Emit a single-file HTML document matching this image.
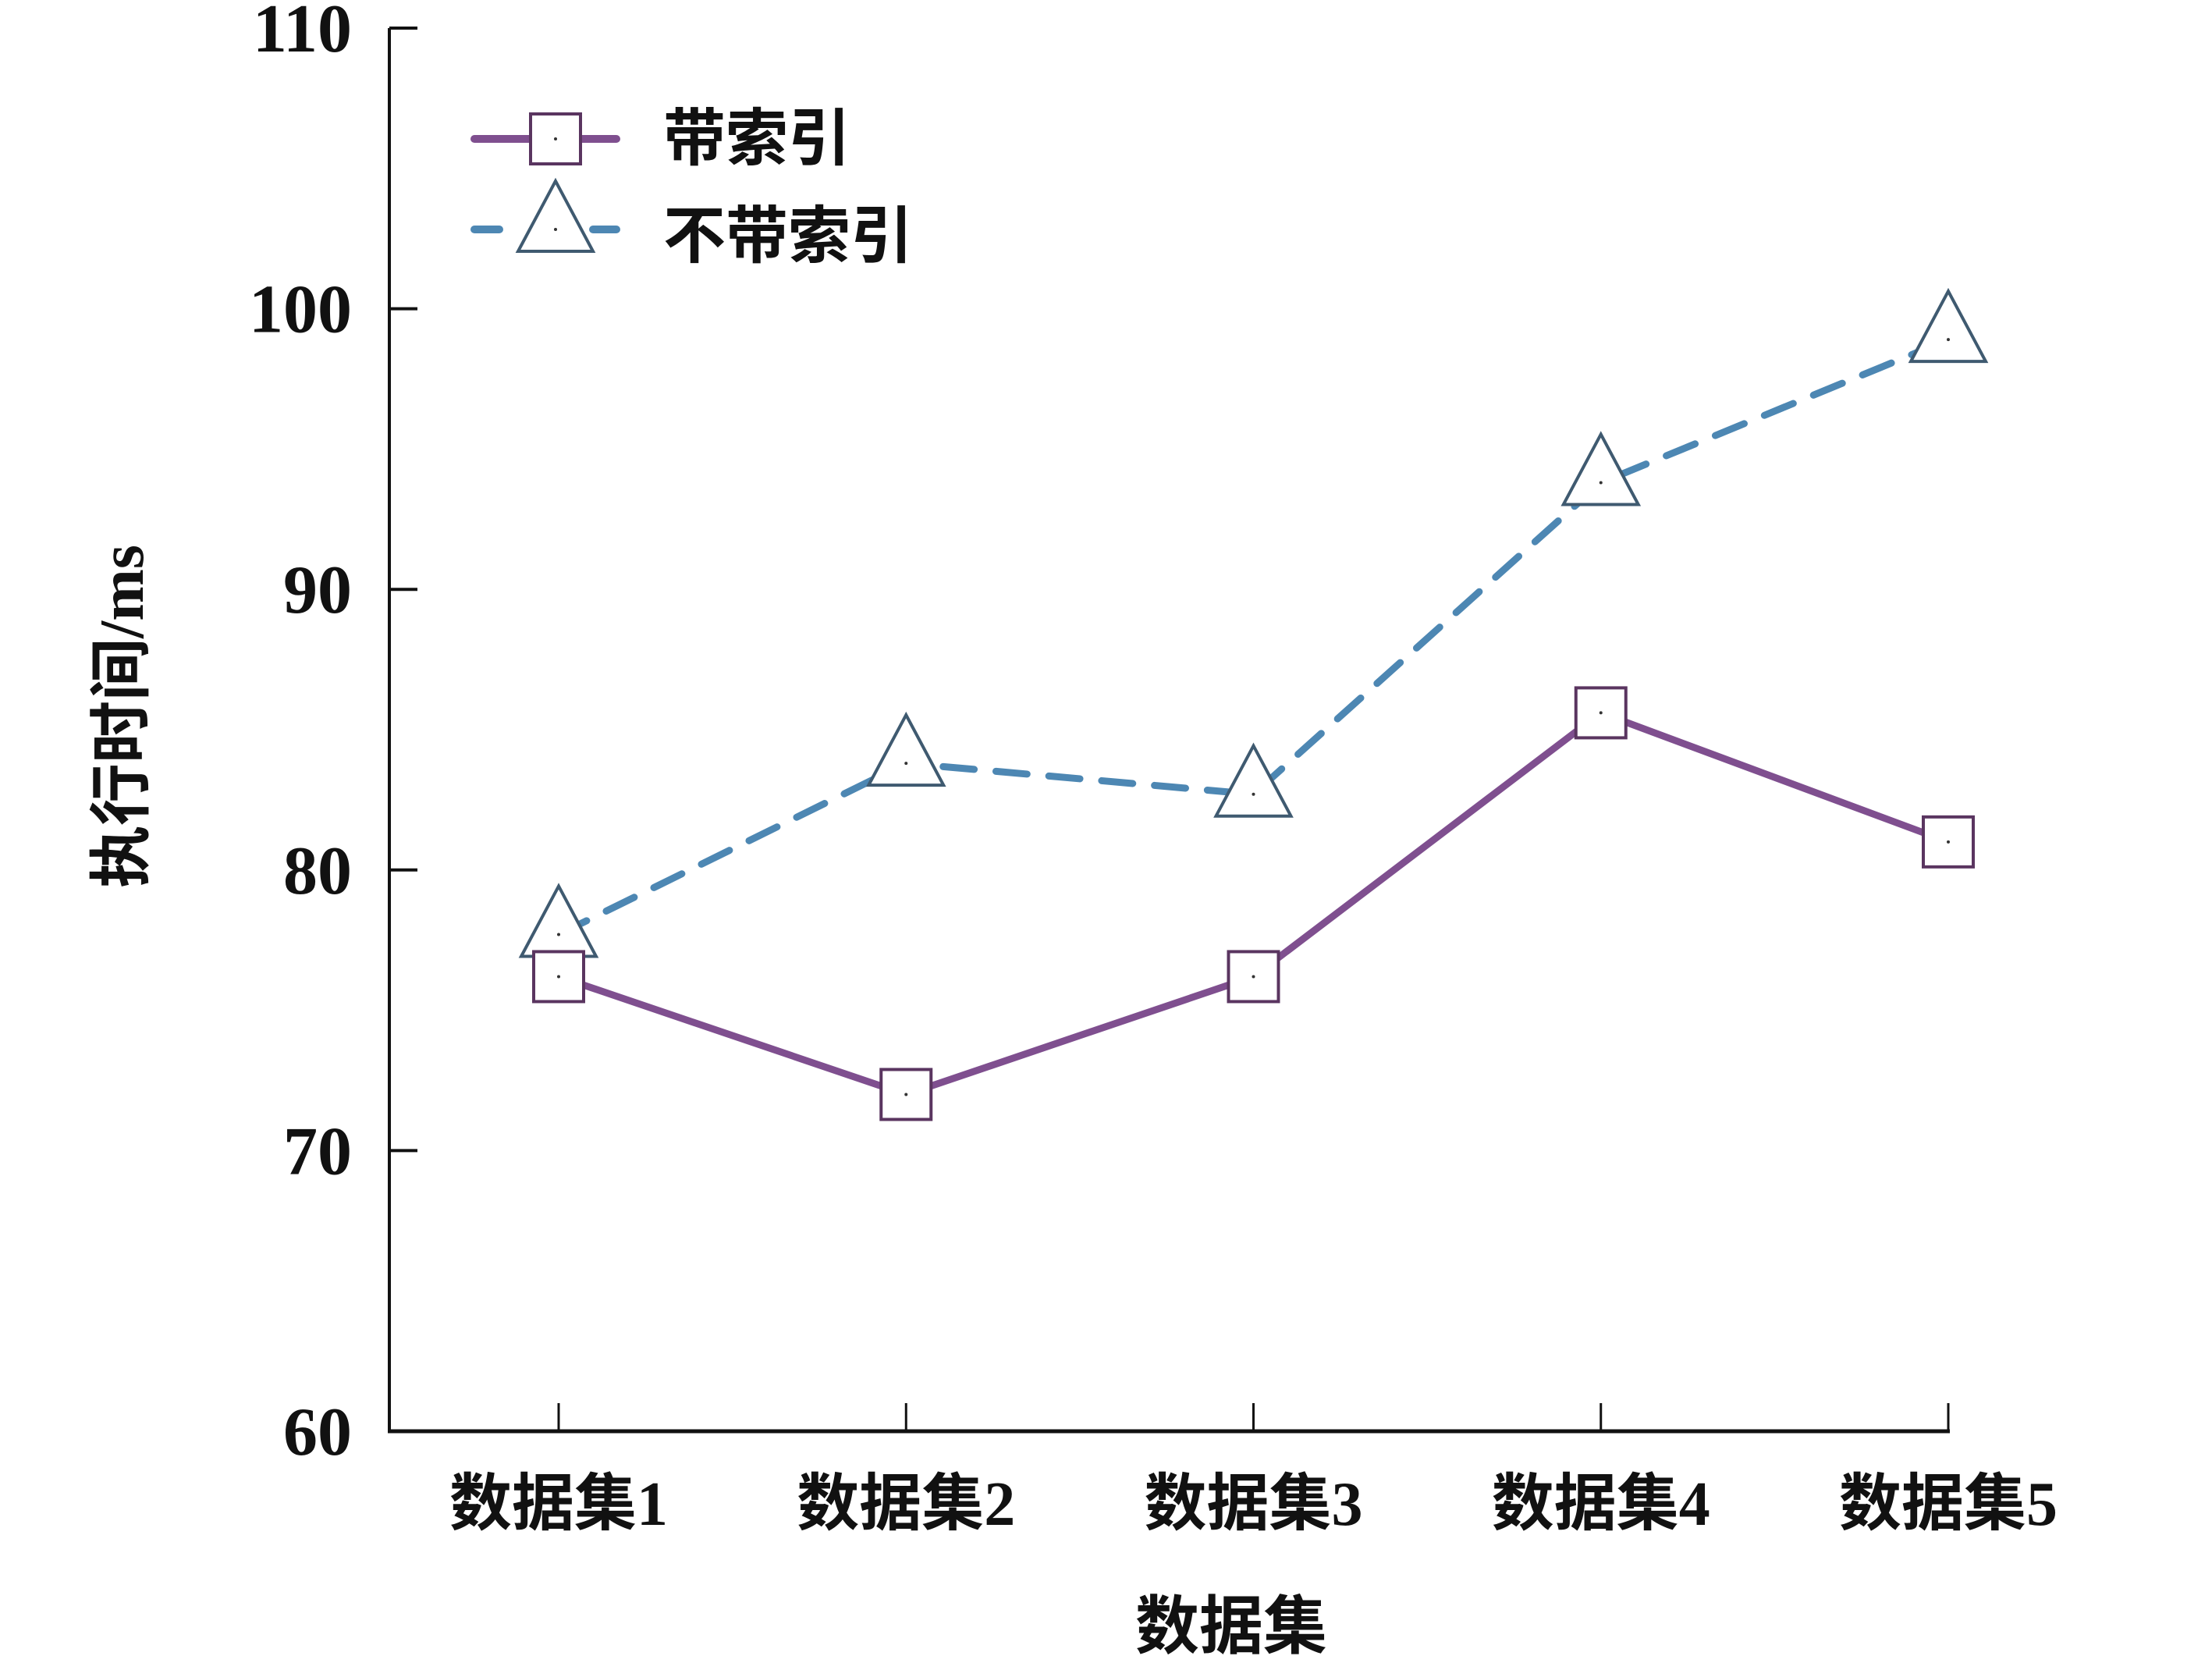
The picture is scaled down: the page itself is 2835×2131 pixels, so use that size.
<!DOCTYPE html>
<html><head><meta charset="utf-8"><style>body{margin:0;background:#fff}svg{display:block}</style></head>
<body>
<svg width="2835" height="2131" viewBox="0 0 2835 2131" xmlns="http://www.w3.org/2000/svg">
<g id="axes"></g>
<g id="series"></g>
<g id="legend"></g>
</svg>
<script>
const categories = ['数据集1','数据集2','数据集3','数据集4','数据集5'];
const withIndex = [76.2, 72.0, 76.2, 85.6, 81.0];
const withoutIndex = [77.7, 83.8, 82.7, 93.8, 98.9];
const yTicks = [60, 70, 80, 90, 100, 110];

const NS='http://www.w3.org/2000/svg';
const X0=499, Y0=1834, Ytop=36, yMin=60, yMax=110;
const XF=716, XL=2497;
function xs(i){return XF + i*(XL-XF)/(categories.length-1);}
function ys(v){return Y0-(v-yMin)/(yMax-yMin)*(Y0-Ytop);}
function mk(tag,attrs,parent,text){const e=document.createElementNS(NS,tag);for(const k in attrs)e.setAttribute(k,attrs[k]);if(text!==undefined)e.textContent=text;parent.appendChild(e);return e;}
const axes=document.getElementById('axes'),series=document.getElementById('series'),legend=document.getElementById('legend');
const serif='"Liberation Serif","Noto Serif CJK SC",serif';
const cjk='"Liberation Serif","Noto Sans CJK SC",sans-serif';

let e=mk('line',{x1:X0,y1:Ytop,x2:X0,y2:Y0+2,stroke:'#111','stroke-width':4},axes);

e=mk('line',{x1:X0-2,y1:Y0,x2:XL+2,y2:Y0,stroke:'#111','stroke-width':5},axes);

yTicks.forEach(v=>{
  let t=mk('line',{x1:X0,y1:ys(v),x2:X0+36,y2:ys(v),stroke:'#111','stroke-width':4},axes);
  
  let l=mk('text',{x:451,y:ys(v)+30,'text-anchor':'end','font-family':serif,'font-weight':'bold','font-size':88,fill:'#111'},axes,String(v));
  
});
categories.forEach((c,i)=>{
  let t=mk('line',{x1:xs(i),y1:Y0,x2:xs(i),y2:Y0-36,stroke:'#111','stroke-width':3},axes);
  
  let l=mk('text',{x:xs(i),y:1954,'text-anchor':'middle','font-family':cjk,'font-weight':'bold','font-size':80,fill:'#111'},axes,c);
  
});
e=mk('text',{x:1578,y:2112,'text-anchor':'middle','font-family':cjk,'font-weight':'bold','font-size':82,fill:'#111'},axes,'数据集');

e=mk('text',{x:0,y:0,transform:'translate(183,918) rotate(-90)','text-anchor':'middle','font-family':cjk,'font-weight':'bold','font-size':80,fill:'#111'},axes,'执行时间/ms');


function pts(arr){return arr.map((v,i)=>xs(i)+','+ys(v)).join(' ');}
e=mk('polyline',{points:pts(withoutIndex),fill:'none',stroke:'#4d87b3','stroke-width':9,'stroke-dasharray':'40 28','stroke-linecap':'round'},series);

e=mk('polyline',{points:pts(withIndex),fill:'none',stroke:'#7f4f8f','stroke-width':9},series);


function square(cx,cy,p){let s=mk('rect',{x:cx-32,y:cy-32,width:64,height:64,fill:'#fff',stroke:'#5a3560','stroke-width':4},p);mk('circle',{cx:cx,cy:cy,r:2,fill:'#333'},p);return s;}
function tri(cx,cy,p){let s=mk('polygon',{points:`${cx},${cy-62} ${cx-48},${cy+28} ${cx+48},${cy+28}`,fill:'#fff',stroke:'#3f5a70','stroke-width':4},p);mk('circle',{cx:cx,cy:cy,r:2,fill:'#333'},p);return s;}
withoutIndex.forEach((v,i)=>{let m=tri(xs(i),ys(v),series);});
withIndex.forEach((v,i)=>{let m=square(xs(i),ys(v),series);});

e=mk('line',{x1:608,y1:178,x2:790,y2:178,stroke:'#7f4f8f','stroke-width':10,'stroke-linecap':'round'},legend);

e=square(712,178,legend);
e=mk('text',{x:850,y:205,'font-family':cjk,'font-weight':'bold','font-size':80,fill:'#111'},legend,'带索引');

e=mk('line',{x1:608,y1:294,x2:640,y2:294,stroke:'#4d87b3','stroke-width':10,'stroke-linecap':'round'},legend);

e=mk('line',{x1:760,y1:294,x2:790,y2:294,stroke:'#4d87b3','stroke-width':10,'stroke-linecap':'round'},legend);

e=tri(712,294,legend);
e=mk('text',{x:850,y:330,'font-family':cjk,'font-weight':'bold','font-size':80,fill:'#111'},legend,'不带索引');

</script>
</body></html>
